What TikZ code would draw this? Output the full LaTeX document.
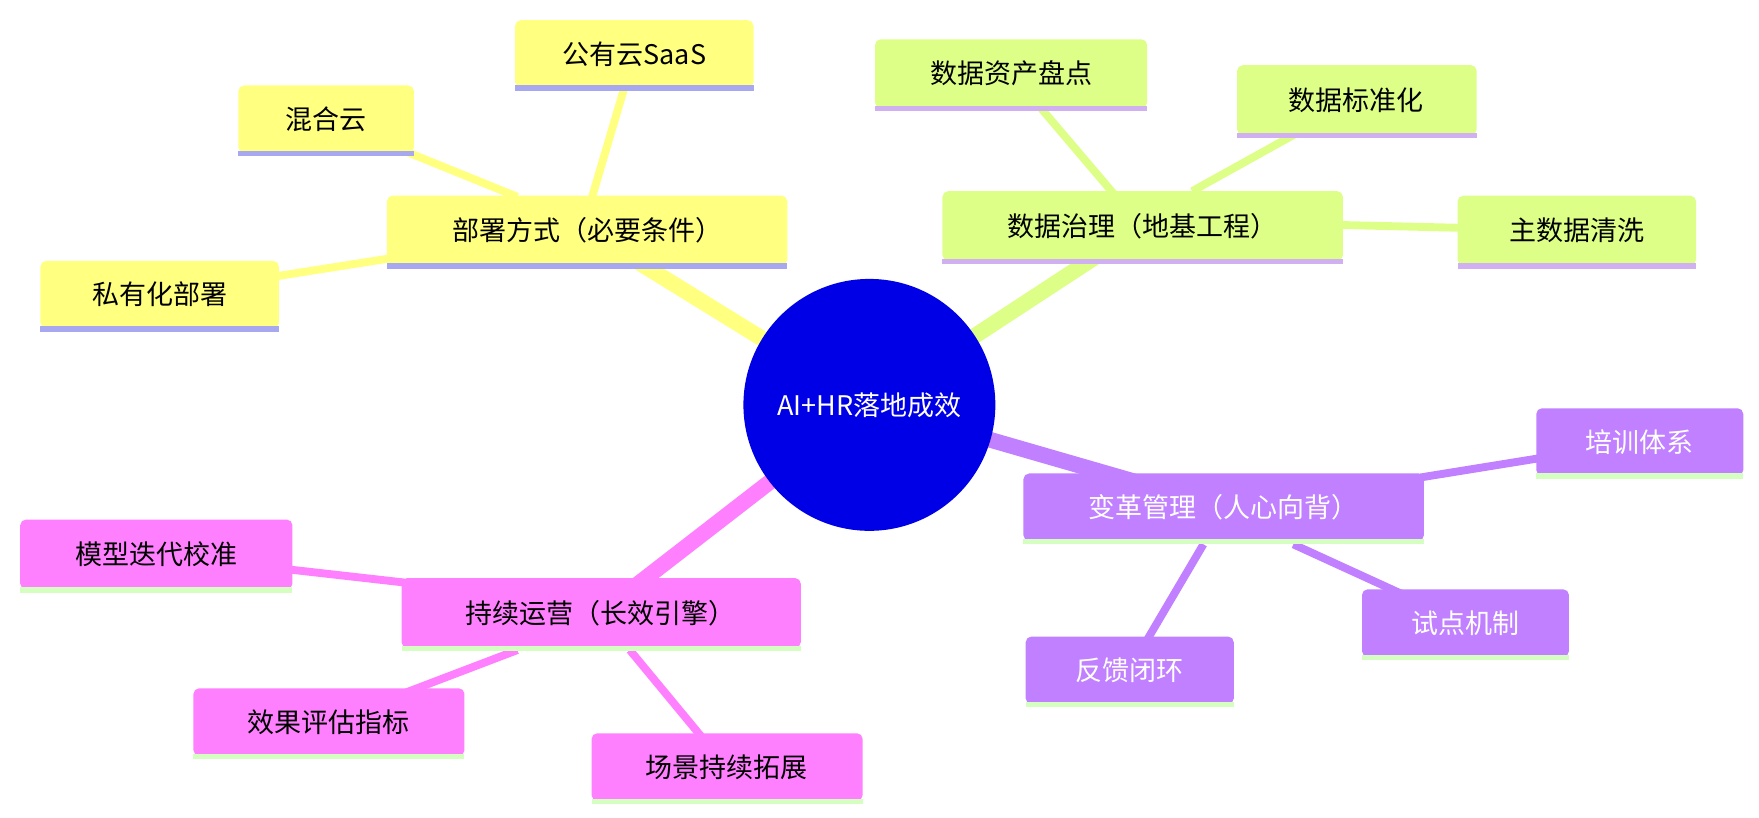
\documentclass[tikz,border=0pt]{standalone}
\usepackage{fontspec}
\setmainfont{Noto Sans CJK SC}
\definecolor{yel}{HTML}{FFFF80}
\definecolor{grn}{HTML}{DDFF88}
\definecolor{pur}{HTML}{C080FF}
\definecolor{pnk}{HTML}{FF80FF}
\definecolor{ulb}{HTML}{A8A8F0}
\definecolor{ulp}{HTML}{D0B0F0}
\definecolor{ulg}{HTML}{D4FFC0}
\definecolor{ctr}{HTML}{0000E6}
\begin{document}
\begin{tikzpicture}[x=1pt,y=-1pt,
  lbl/.style={font=\fontsize{24}{28}\selectfont,inner sep=0},
  conn/.style={line width=7pt},
  trunk/.style={line width=14pt}]
\useasboundingbox (0,0) rectangle (1564,727);
% box macro via pic-free commands
\newcommand\bx[7]{% name,x1,y1,x2,y2,fill,underline
  \fill[#6,rounded corners=5pt] (#2,#3) rectangle (#4,#5);
  \fill[#7] (#2,#5-2) rectangle (#4,#5+3);
}
% nodes as coordinates first
\coordinate (c) at (773,360);
\coordinate (m1) at (522,205);
\coordinate (m2) at (1016,201);
\coordinate (m3) at (1088,451);
\coordinate (m4) at (534,545);
\coordinate (a1) at (564,48);  \coordinate (a2) at (290,106);  \coordinate (a3) at (142,262);
\coordinate (b1) at (899,65);  \coordinate (b2) at (1206,89);  \coordinate (b3) at (1402,205);
\coordinate (d1) at (1458,393);\coordinate (d2) at (1303,554); \coordinate (d3) at (1004,596);
\coordinate (e1) at (139,493); \coordinate (e2) at (292,642);  \coordinate (e3) at (646,682);
% connectors
\draw[trunk,yel] (c) -- (m1);
\draw[trunk,grn] (c) -- (m2);
\draw[trunk,pur] (c) -- (m3);
\draw[trunk,pnk] (c) -- (m4);
\draw[conn,yel] (525,180) -- (a1); \draw[conn,yel] (460,175) -- (a2); \draw[conn,yel] (345,230) -- (a3);
\draw[conn,grn] (990,172) -- (b1); \draw[conn,grn] (1060,170) -- (b2); \draw[conn,grn] (1190,200) -- (b3);
\draw[conn,pur] (1260,425) -- (d1); \draw[conn,pur] (1150,484) -- (d2); \draw[conn,pur] (1070,484) -- (d3);
\draw[conn,pnk] (360,518) -- (e1); \draw[conn,pnk] (460,578) -- (e2); \draw[conn,pnk] (560,578) -- (e3);
% boxes
\bx{m1}{344}{174}{700}{236}{yel}{ulb}
\bx{a1}{458}{18}{670}{78}{yel}{ulb}
\bx{a2}{212}{76}{368}{136}{yel}{ulb}
\bx{a3}{36}{232}{248}{292}{yel}{ulb}
\bx{m2}{838}{170}{1194}{232}{grn}{ulp}
\bx{b1}{778}{35}{1020}{96}{grn}{ulp}
\bx{b2}{1100}{58}{1313}{120}{grn}{ulp}
\bx{b3}{1296}{174}{1508}{236}{grn}{ulp}
\bx{m3}{910}{421}{1266}{481}{pur}{ulg}
\bx{d1}{1366}{363}{1550}{423}{pur}{ulg}
\bx{d2}{1211}{524}{1395}{584}{pur}{ulg}
\bx{d3}{912}{566}{1097}{626}{pur}{ulg}
\bx{m4}{357}{514}{712}{576}{pnk}{ulg}
\bx{e1}{18}{462}{260}{524}{pnk}{ulg}
\bx{e2}{172}{612}{413}{672}{pnk}{ulg}
\bx{e3}{526}{652}{767}{712}{pnk}{ulg}
\fill[ctr] (c) circle (112);
% labels
\node[lbl,text=white] (tc) at (c) {AI+HR落地成效};
\node[lbl] (t1) at (m1) {部署方式（必要条件）};
\node[lbl] (ta1) at (a1) {公有云SaaS};
\node[lbl] (ta2) at (a2) {混合云};
\node[lbl] (ta3) at (a3) {私有化部署};
\node[lbl] (t2) at (m2) {数据治理（地基工程）};
\node[lbl] (tb1) at (b1) {数据资产盘点};
\node[lbl] (tb2) at (b2) {数据标准化};
\node[lbl] (tb3) at (b3) {主数据清洗};
\node[lbl,text=white] (t3) at (m3) {变革管理（人心向背）};
\node[lbl,text=white] (td1) at (d1) {培训体系};
\node[lbl,text=white] (td2) at (d2) {试点机制};
\node[lbl,text=white] (td3) at (d3) {反馈闭环};
\node[lbl] (t4) at (m4) {持续运营（长效引擎）};
\node[lbl] (te1) at (e1) {模型迭代校准};
\node[lbl] (te2) at (e2) {效果评估指标};
\node[lbl] (te3) at (e3) {场景持续拓展};
\end{tikzpicture}
\end{document}
